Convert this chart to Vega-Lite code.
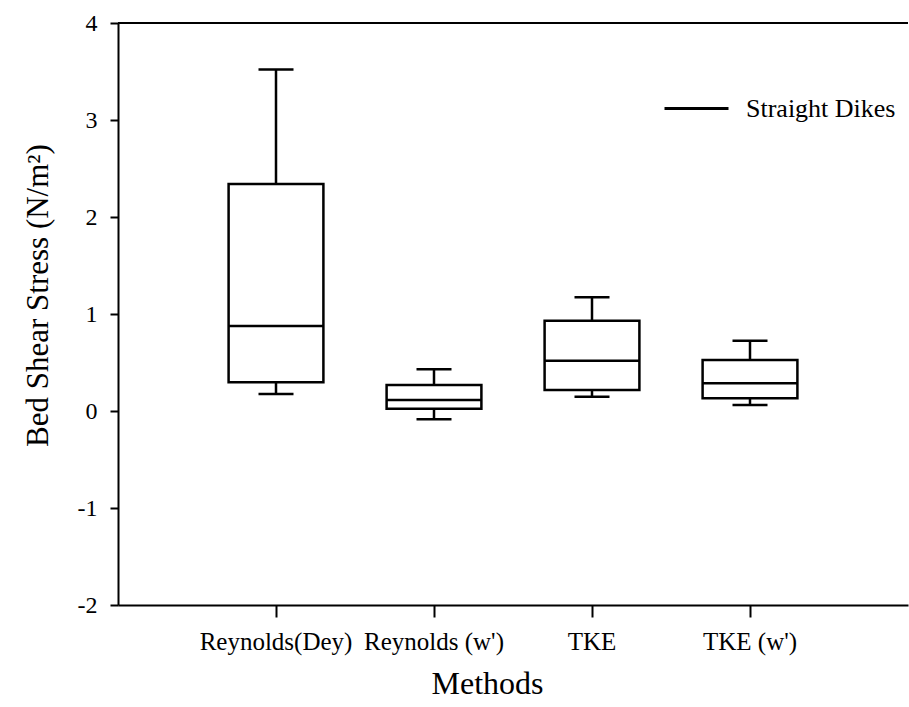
{
  "$schema": "https://vega.github.io/schema/vega-lite/v6.json",
  "width": 790,
  "height": 582,
  "autosize": {"type": "none"},
  "padding": {"left": 118, "top": 23, "right": 1, "bottom": 102},
  "background": "white",
  "config": {
    "view": {"stroke": null},
    "font": "Liberation Serif",
    "axis": {
      "grid": false,
      "domainColor": "black",
      "domainWidth": 2,
      "tickColor": "black",
      "tickWidth": 2,
      "labelColor": "black",
      "titleColor": "black",
      "labelFont": "Liberation Serif",
      "titleFont": "Liberation Serif",
      "titleFontWeight": "normal"
    },
    "legend": {
      "labelFont": "Liberation Serif",
      "labelColor": "black"
    }
  },
  "data": {
    "values": [
      {"method": "Reynolds(Dey)", "lower": 0.175, "q1": 0.296, "median": 0.876, "q3": 2.34, "upper": 3.52},
      {"method": "Reynolds (w')", "lower": -0.086, "q1": 0.024, "median": 0.113, "q3": 0.268, "upper": 0.43},
      {"method": "TKE", "lower": 0.147, "q1": 0.216, "median": 0.519, "q3": 0.931, "upper": 1.172},
      {"method": "TKE (w')", "lower": 0.062, "q1": 0.131, "median": 0.285, "q3": 0.526, "upper": 0.725}
    ]
  },
  "encoding": {
    "x": {
      "field": "method",
      "type": "nominal",
      "sort": null,
      "scale": {"type": "band", "paddingInner": 0, "paddingOuter": 0.5},
      "axis": {
        "title": "Methods",
        "labelAngle": 0,
        "labelFont": "Liberation Serif",
        "titleFont": "Liberation Serif",
        "labelFontSize": 25,
        "titleFontSize": 32,
        "tickSize": 12,
        "labelPadding": 12,
        "titlePadding": 14,
        "titleX": 369,
        "titleAnchor": "middle",
        "domainWidth": 2
      }
    }
  },
  "layer": [
    {
      "mark": {"type": "rule", "strokeWidth": 2},
      "encoding": {
        "x": null,
        "y": {"datum": 4, "type": "quantitative"}
      }
    },
    {
      "mark": {"type": "rule", "strokeWidth": 2.5},
      "encoding": {
        "y": {
          "field": "lower",
          "type": "quantitative",
          "scale": {"domain": [-2, 4], "nice": false, "zero": false},
          "axis": {
            "title": "Bed Shear Stress (N/m²)",
            "values": [-2, -1, 0, 1, 2, 3, 4],
            "labelExpr": "datum.value + ''",
            "labelFont": "Liberation Serif",
            "titleFont": "Liberation Serif",
            "labelFontSize": 24,
            "titleFontSize": 31,
            "tickSize": 8,
            "labelPadding": 13,
            "titlePadding": 23,
            "titleY": 272,
            "titleAnchor": "middle"
          }
        },
        "y2": {"field": "upper"},
        "color": {
          "datum": "Straight Dikes",
          "type": "nominal",
          "scale": {"range": ["black"]},
          "legend": {
            "title": null,
            "orient": "none",
            "legendX": 545,
            "legendY": 52,
            "symbolType": "stroke",
            "symbolSize": 4096,
            "symbolStrokeWidth": 3,
            "symbolStrokeColor": "black",
            "labelFont": "Liberation Serif",
            "labelFontSize": 26,
            "labelOffset": 16
          }
        }
      }
    },
    {
      "mark": {"type": "bar", "fill": "white", "stroke": "black", "strokeWidth": 2.5, "width": {"band": 0.6}},
      "encoding": {
        "y": {"field": "q1", "type": "quantitative"},
        "y2": {"field": "q3"}
      }
    },
    {
      "mark": {"type": "tick", "color": "black", "opacity": 1, "thickness": 2.5, "size": 95, "orient": "horizontal"},
      "encoding": {
        "y": {"field": "median", "type": "quantitative"}
      }
    },
    {
      "mark": {"type": "tick", "color": "black", "opacity": 1, "thickness": 2.5, "size": 35, "orient": "horizontal"},
      "encoding": {
        "y": {"field": "lower", "type": "quantitative"}
      }
    },
    {
      "mark": {"type": "tick", "color": "black", "opacity": 1, "thickness": 2.5, "size": 35, "orient": "horizontal"},
      "encoding": {
        "y": {"field": "upper", "type": "quantitative"}
      }
    }
  ]
}
